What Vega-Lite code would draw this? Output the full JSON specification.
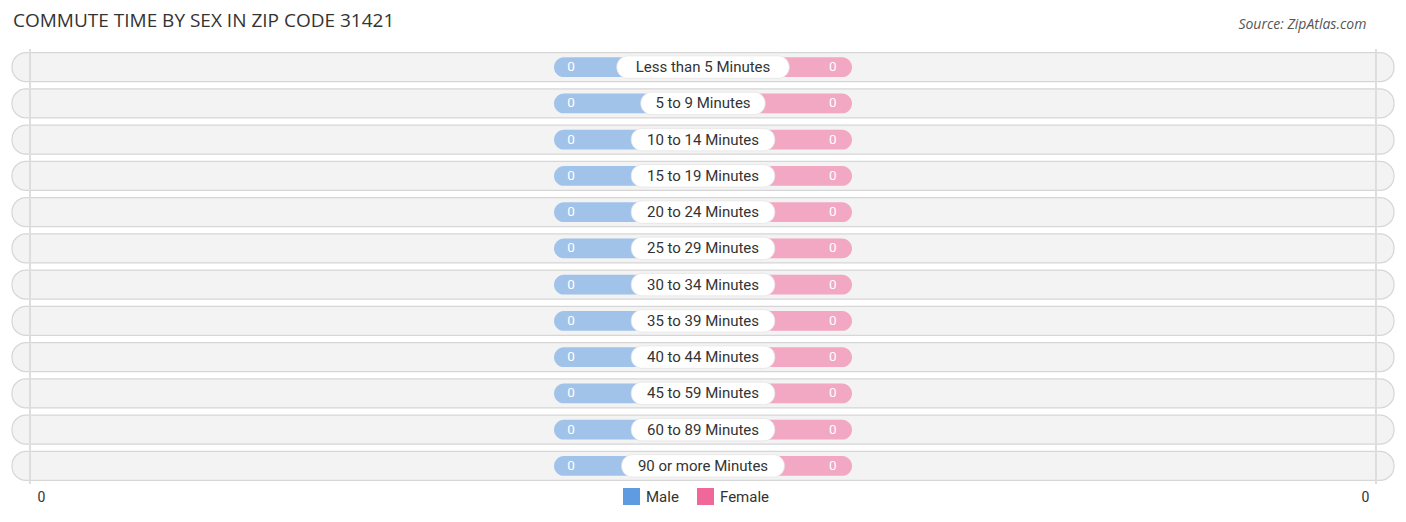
{
  "$schema": "https://vega.github.io/schema/vega-lite/v6.json",
  "autosize": {"type": "none"},
  "width": 1382,
  "height": 435,
  "padding": {"left": 12, "top": 49, "right": 12, "bottom": 38},
  "background": "white",
  "config": {"view": {"stroke": null}, "font": "Roboto"},
  "data": {
    "values": [
      {"label": "Less than 5 Minutes", "male": 0, "female": 0},
      {"label": "5 to 9 Minutes", "male": 0, "female": 0},
      {"label": "10 to 14 Minutes", "male": 0, "female": 0},
      {"label": "15 to 19 Minutes", "male": 0, "female": 0},
      {"label": "20 to 24 Minutes", "male": 0, "female": 0},
      {"label": "25 to 29 Minutes", "male": 0, "female": 0},
      {"label": "30 to 34 Minutes", "male": 0, "female": 0},
      {"label": "35 to 39 Minutes", "male": 0, "female": 0},
      {"label": "40 to 44 Minutes", "male": 0, "female": 0},
      {"label": "45 to 59 Minutes", "male": 0, "female": 0},
      {"label": "60 to 89 Minutes", "male": 0, "female": 0},
      {"label": "90 or more Minutes", "male": 0, "female": 0}
    ]
  },
  "encoding": {
    "y": {
      "field": "label",
      "type": "nominal",
      "sort": null,
      "axis": null,
      "scale": {"paddingInner": 0, "paddingOuter": 0}
    }
  },
  "layer": [
    {
      "mark": {"type": "bar", "height": {"band": 0.8}, "cornerRadius": 14, "fill": "#f3f3f3", "stroke": "#d6d6d6", "strokeWidth": 1.2},
      "encoding": {
        "x": {
          "datum": -1,
          "type": "quantitative",
          "scale": {"domain": [-1, 1], "nice": false, "zero": false},
          "axis": {
            "values": [-0.958, 0.958],
            "labelExpr": "'0'",
            "ticks": false,
            "domain": false,
            "grid": false,
            "title": null,
            "labelFontSize": 14,
            "labelColor": "#333333",
            "labelPadding": 6,
            "labelFont": "Roboto"
          }
        },
        "x2": {"datum": 1}
      }
    },
    {
      "mark": {"type": "rule", "color": "#dddddd", "strokeWidth": 1},
      "encoding": {"x": {"datum": -0.974, "type": "quantitative"}, "y": null}
    },
    {
      "mark": {"type": "rule", "color": "#dddddd", "strokeWidth": 1},
      "encoding": {"x": {"datum": 0.974, "type": "quantitative"}, "y": null}
    },
    {
      "mark": {"type": "bar", "height": {"band": 0.55}, "cornerRadius": 10, "opacity": 0.55},
      "encoding": {
        "x": {"datum": 0, "type": "quantitative"},
        "x2": {"datum": -0.2156},
        "color": {
          "datum": "Male",
          "type": "nominal",
          "scale": {"domain": ["Male", "Female"], "range": ["#5f9be0", "#f0689a"]},
          "legend": {
            "title": null,
            "orient": "none",
            "direction": "horizontal",
            "legendX": 611,
            "legendY": 439,
            "symbolType": "square",
            "symbolSize": 289,
            "symbolOpacity": 1,
            "symbolStrokeWidth": 0,
            "labelFontSize": 15,
            "labelColor": "#333333",
            "labelFont": "Roboto",
            "labelOffset": 6,
            "columnPadding": 18,
            "encode": {"symbols": {"update": {"opacity": {"value": 1}, "fillOpacity": {"value": 1}}}}
          }
        }
      }
    },
    {
      "mark": {"type": "bar", "height": {"band": 0.55}, "cornerRadius": 10, "opacity": 0.55},
      "encoding": {
        "x": {"datum": 0, "type": "quantitative"},
        "x2": {"datum": 0.2156},
        "color": {"datum": "Female", "type": "nominal"}
      }
    },
    {
      "transform": [{"calculate": "(4.8 * length(datum.label) - 5) / 691", "as": "half"}, {"calculate": "-datum.half", "as": "nhalf"}],
      "mark": {"type": "bar", "height": {"band": 0.62}, "cornerRadius": 11, "fill": "white", "stroke": "#e6e6e6", "strokeWidth": 0.8},
      "encoding": {
        "x": {"field": "nhalf", "type": "quantitative"},
        "x2": {"field": "half"}
      }
    },
    {
      "mark": {"type": "text", "font": "Roboto", "fontSize": 15, "color": "#333333", "align": "center", "baseline": "middle"},
      "encoding": {
        "x": {"datum": 0, "type": "quantitative"},
        "text": {"field": "label"}
      }
    },
    {
      "mark": {"type": "text", "font": "Roboto", "fontSize": 13.5, "color": "white", "align": "center", "baseline": "middle"},
      "encoding": {
        "x": {"datum": -0.191, "type": "quantitative"},
        "text": {"field": "male", "type": "quantitative"}
      }
    },
    {
      "mark": {"type": "text", "font": "Roboto", "fontSize": 13.5, "color": "white", "align": "center", "baseline": "middle"},
      "encoding": {
        "x": {"datum": 0.188, "type": "quantitative"},
        "text": {"field": "female", "type": "quantitative"}
      }
    },
    {
      "data": {"values": [{"title": "COMMUTE TIME BY SEX IN ZIP CODE 31421"}]},
      "mark": {"type": "text", "font": "Open Sans", "fontSize": 19, "color": "#333333", "align": "left", "baseline": "middle"},
      "encoding": {
        "x": {"datum": -0.9985, "type": "quantitative"},
        "y": {"value": -28},
        "text": {"field": "title"}
      }
    },
    {
      "data": {"values": [{"source": "Source: ZipAtlas.com"}]},
      "mark": {"type": "text", "font": "Open Sans", "fontSize": 14, "fontStyle": "italic", "color": "#555555", "align": "right", "baseline": "middle"},
      "encoding": {
        "x": {"datum": 0.96, "type": "quantitative"},
        "y": {"value": -24},
        "text": {"field": "source"}
      }
    }
  ]
}
